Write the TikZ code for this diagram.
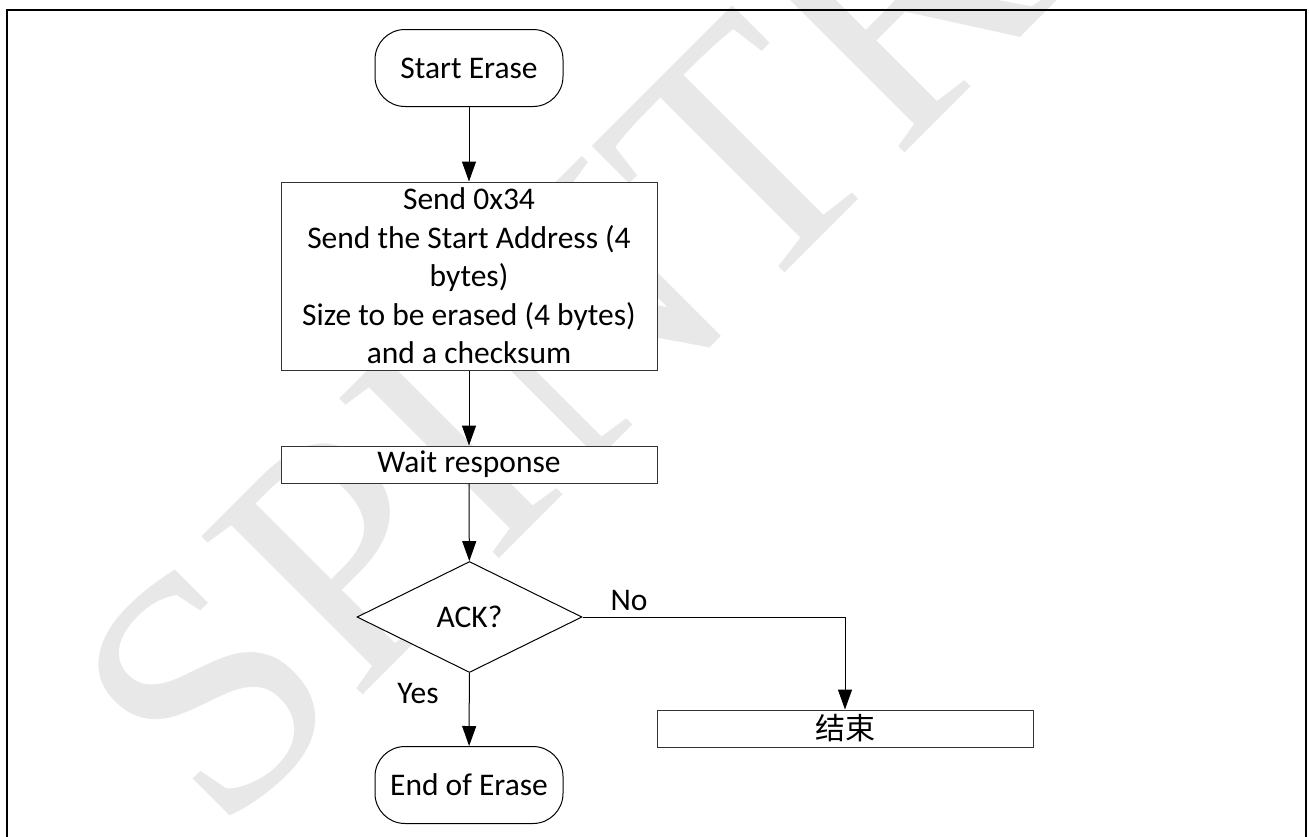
\documentclass[tikz,border=0pt]{standalone}
\usepackage{fontspec}
\setmainfont{Carlito}
\newfontfamily\wmfont{Liberation Serif}
\newfontfamily\cjk{Noto Sans CJK SC}
\usetikzlibrary{shapes.geometric,arrows.meta}
\begin{document}
\begin{tikzpicture}[x=1pt,y=-1pt,
  every node/.style={font=\fontsize{31.5}{38.5}\selectfont},
  term/.style={draw=black, fill=white, line width=1pt, rounded corners=30pt, minimum width=188pt, minimum height=77pt, inner sep=0pt},
  proc/.style={draw=black!80, fill=white, line width=1pt, minimum width=376pt, inner sep=0pt, align=center},
  dec/.style={draw=black, fill=white, line width=1pt, diamond, aspect=2.03, minimum width=225pt, minimum height=111pt, inner sep=0pt},
  flow/.style={draw=black, line width=1pt, -{Triangle[length=20pt,width=14pt]}},
  lbl/.style={inner sep=0pt},
  frameline/.style={draw=black, line width=2.2pt}
]
\useasboundingbox (0,0) rectangle (1309,836);
\begin{scope}
  \clip (0,0) rectangle (1309,836);
  \node[rotate=45, anchor=base west, inner sep=0pt, text=black!9,
        font=\wmfont\fontsize{345}{345}\selectfont] (wm) at (219,839) {SPINTROL};
\end{scope}
\draw[frameline] (7,840) -- (7,10) -- (1306,10) -- (1306,840);

\node[term] (start) at (469,68) {Start Erase};
\node[proc, minimum height=188pt] (send) at (469,276)
  {Send 0x34\\Send the Start Address (4\\bytes)\\Size to be erased (4 bytes)\\and a checksum};
\node[proc, minimum height=37pt] (wait) at (469,464.5) {Wait response};
\node[dec] (ack) at (469.5,617) {ACK?};
\node[term] (stop) at (469,785) {End of Erase};
\node[proc, minimum height=37pt, font=\cjk\fontsize{30}{30}\selectfont] (fin) at (845,728.5) {结束};

\node[lbl] (yes) at (418,693) {Yes};
\node[lbl] (no) at (629,600) {No};

\draw[flow] (start) -- (send);
\draw[flow] (send) -- (wait);
\draw[flow] (wait) -- (ack);
\draw[flow] (ack) -- (stop);
\draw[flow] (ack.east) -| (fin.north);
\end{tikzpicture}
\end{document}
